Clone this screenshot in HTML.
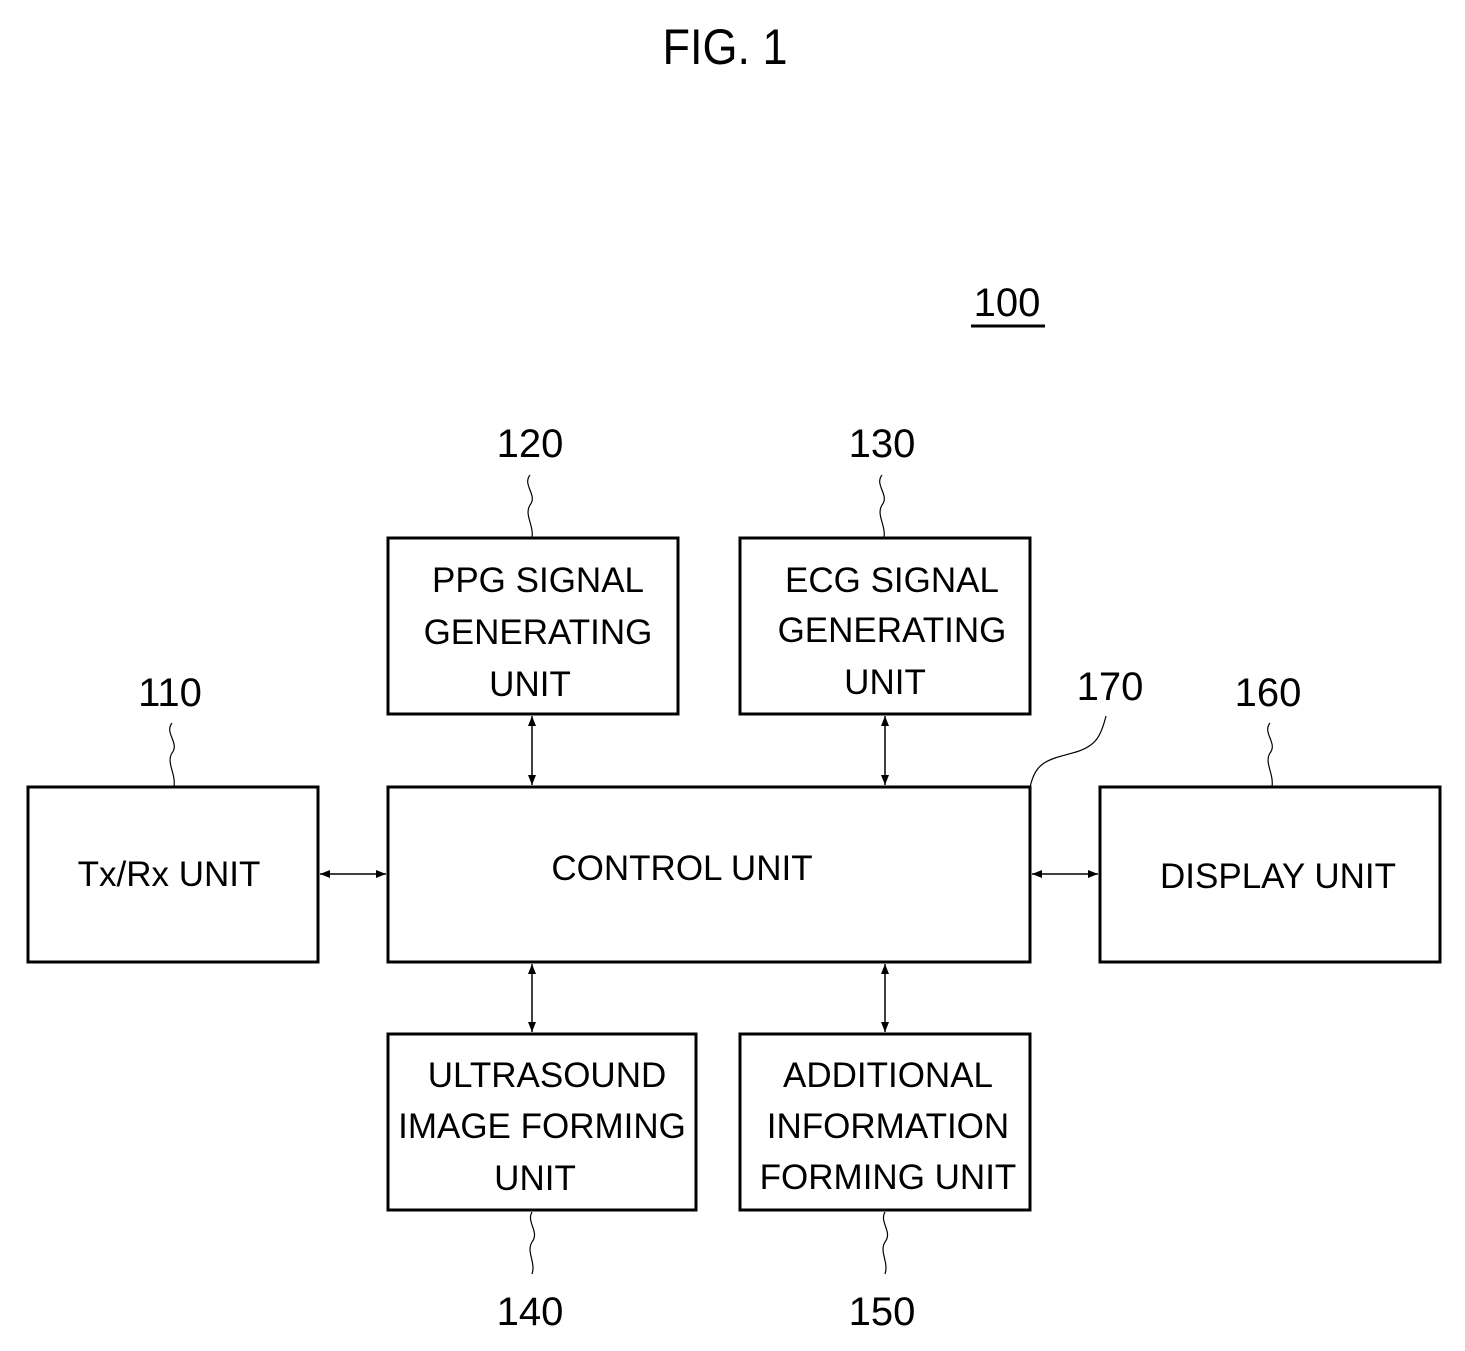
<!DOCTYPE html>
<html><head><meta charset="utf-8"><style>
body{margin:0;background:#fff}
svg text{font-family:"Liberation Sans",sans-serif;fill:#000}
</style></head><body>
<svg width="1465" height="1346" viewBox="0 0 1465 1346" xmlns="http://www.w3.org/2000/svg">
<defs>
<marker id="a" viewBox="0 0 10 10" refX="10" refY="5" markerWidth="10" markerHeight="10" markerUnits="userSpaceOnUse" orient="auto-start-reverse"><path d="M0,1 L10,5 L0,9 Z" fill="#000"/></marker>
</defs>
<g fill="none" stroke="#000" stroke-width="3">
<rect x="388" y="538" width="290" height="176"/>
<rect x="740" y="538" width="290" height="176"/>
<rect x="28" y="787" width="290" height="175"/>
<rect x="388" y="787" width="642" height="175"/>
<rect x="1100" y="787" width="340" height="175"/>
<rect x="388" y="1034" width="308" height="176"/>
<rect x="740" y="1034" width="290" height="176"/>
</g>
<g stroke="#000" stroke-width="1.5" marker-start="url(#a)" marker-end="url(#a)">
<line x1="532" y1="716" x2="532" y2="785"/>
<line x1="885" y1="716" x2="885" y2="785"/>
<line x1="532" y1="964" x2="532" y2="1032"/>
<line x1="885" y1="964" x2="885" y2="1032"/>
<line x1="320" y1="874" x2="386" y2="874"/>
<line x1="1032" y1="874" x2="1098" y2="874"/>
</g>
<g fill="none" stroke="#000" stroke-width="1.2">
<path d="M530,475 c-8,10 8,20 0,30 c-6,10 4,20 2,33"/>
<path d="M882,475 c-8,10 8,20 0,30 c-6,10 4,20 2,33"/>
<path d="M172,723 c-8,10 8,20 0,30 c-6,10 4,20 2,34"/>
<path d="M1270,723 c-8,10 8,20 0,30 c-6,10 4,20 2,34"/>
<path d="M532,1212 c-6,10 8,20 0,30 c-6,10 4,20 0,32"/>
<path d="M885,1212 c-6,10 8,20 0,30 c-6,10 4,20 0,32"/>
<path d="M1106,716 c-5,20 -10,30 -30,36 c-30,8 -40,10 -46,35"/>
</g>
<g font-size="50" text-anchor="middle"><text x="725" y="64" transform="translate(725 0) scale(0.9 1) translate(-725 0)">FIG. 1</text></g>
<g font-size="40" text-anchor="middle">
<text x="1007" y="316">100</text>
<text x="530" y="457">120</text>
<text x="882" y="457">130</text>
<text x="170" y="706">110</text>
<text x="1110" y="700">170</text>
<text x="1268" y="706">160</text>
<text x="530" y="1325">140</text>
<text x="882" y="1325">150</text>
</g>
<line x1="971" y1="326" x2="1045" y2="326" stroke="#000" stroke-width="3"/>
<g font-size="35" text-anchor="middle">
<text x="538" y="592">PPG SIGNAL</text>
<text x="538" y="644">GENERATING</text>
<text x="530" y="696">UNIT</text>
<text x="892" y="592">ECG SIGNAL</text>
<text x="892" y="642">GENERATING</text>
<text x="885" y="694">UNIT</text>
<text x="169" y="886">Tx/Rx UNIT</text>
<text x="682" y="880">CONTROL UNIT</text>
<text x="1278" y="888">DISPLAY UNIT</text>
<text x="547" y="1087">ULTRASOUND</text>
<text x="542" y="1138">IMAGE FORMING</text>
<text x="535" y="1190">UNIT</text>
<text x="888" y="1087">ADDITIONAL</text>
<text x="888" y="1138">INFORMATION</text>
<text x="888" y="1189">FORMING UNIT</text>
</g>
</svg>
</body></html>
